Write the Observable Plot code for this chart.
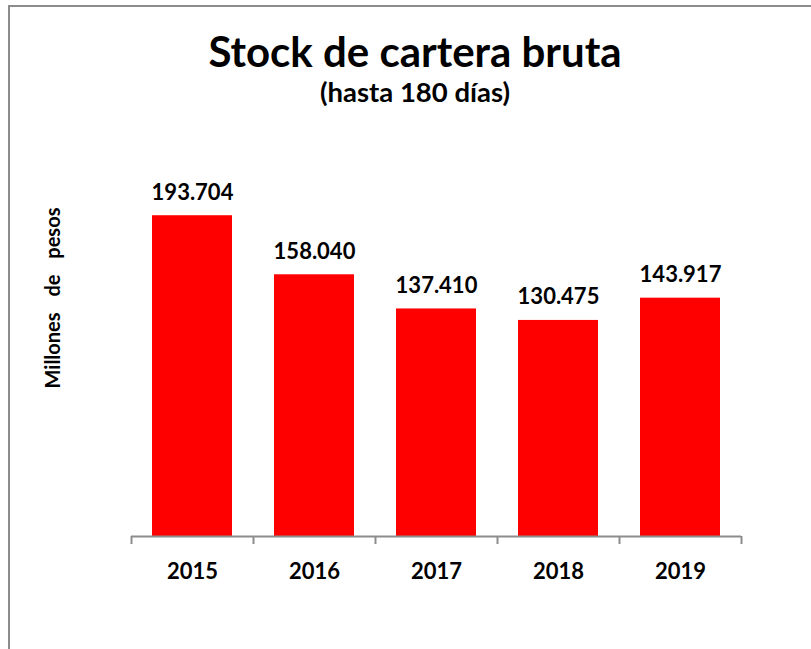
<!DOCTYPE html>
<html><head><meta charset="utf-8">
<script src="https://cdn.jsdelivr.net/npm/d3@7"></script>
<script src="https://cdn.jsdelivr.net/npm/@observablehq/plot@0.6"></script>
<style>
body{margin:0;background:#fff;}
#wrap{position:relative;width:811px;height:649px;overflow:hidden;font-family:Lato,sans-serif;}
#frame{position:absolute;left:8px;top:5px;width:820px;height:700px;border-left:2px solid #8c8c8c;border-top:2px solid #8c8c8c;}
.t{position:absolute;left:8px;width:814px;text-align:center;font-weight:bold;color:#000;line-height:1;white-space:nowrap;}
#ylab{position:absolute;left:52px;top:298px;transform:translate(-50%,-50%) rotate(-90deg);font-size:20px;font-weight:bold;white-space:nowrap;line-height:1;color:#000;word-spacing:11px;}
#chart{position:absolute;left:0;top:0;}
</style></head><body>
<div id="wrap"><div id="frame"></div>
<div class="t" id="title" style="top:30px;font-size:42px">Stock de cartera bruta</div>
<div class="t" id="sub" style="top:78px;font-size:27.5px">(hasta 180 días)</div>
<div id="chart"></div>
<div id="ylab"></div>
</div>
<script>
const years = ["2015","2016","2017","2018","2019"];
const values = [193.704,158.040,137.410,130.475,143.917];
const valueLabels = ["193.704","158.040","137.410","130.475","143.917"];
const yLabel = "Millones de pesos";
const data = years.map((y,i)=>({year:y, value:values[i], label:valueLabels[i]}));
const W=811,H=649, mL=131, mR=70, mT=122, mB=113;
const step = (W-mL-mR)/years.length;
const plot = Plot.plot({
  width:W,height:H,marginLeft:mL,marginRight:mR,marginTop:mT,marginBottom:mB,
  style:{background:"transparent", fontFamily:"Lato, sans-serif", color:"#000"},
  x:{domain:years, paddingInner:0.344, paddingOuter:0.172},
  y:{domain:[0,250], axis:null},
  marks:[
    Plot.barY(data,{x:"year",y:"value",fill:"#ff0000"}),
    Plot.ruleY([0],{stroke:"#8c8c8c",strokeWidth:2}),
    Plot.axisX(years,{tickSize:8, text:null, dx:-step/2, stroke:"#8c8c8c", strokeWidth:2, strokeOpacity:1, label:null}),
    Plot.axisX([years[years.length-1]],{tickSize:8, text:null, dx:step/2, stroke:"#8c8c8c", strokeWidth:2, strokeOpacity:1, label:null}),
    Plot.axisX({tickSize:0, tickPadding:27, fontSize:22, fontWeight:"bold", fill:"#000", label:null}),
    Plot.text(data,{x:"year",y:"value",text:"label",dy:-16,lineAnchor:"bottom",fontSize:22,fontWeight:"bold",fill:"#000"})
  ]
});
document.getElementById("chart").appendChild(plot);
document.getElementById("ylab").textContent = yLabel;
</script>
</body></html>
